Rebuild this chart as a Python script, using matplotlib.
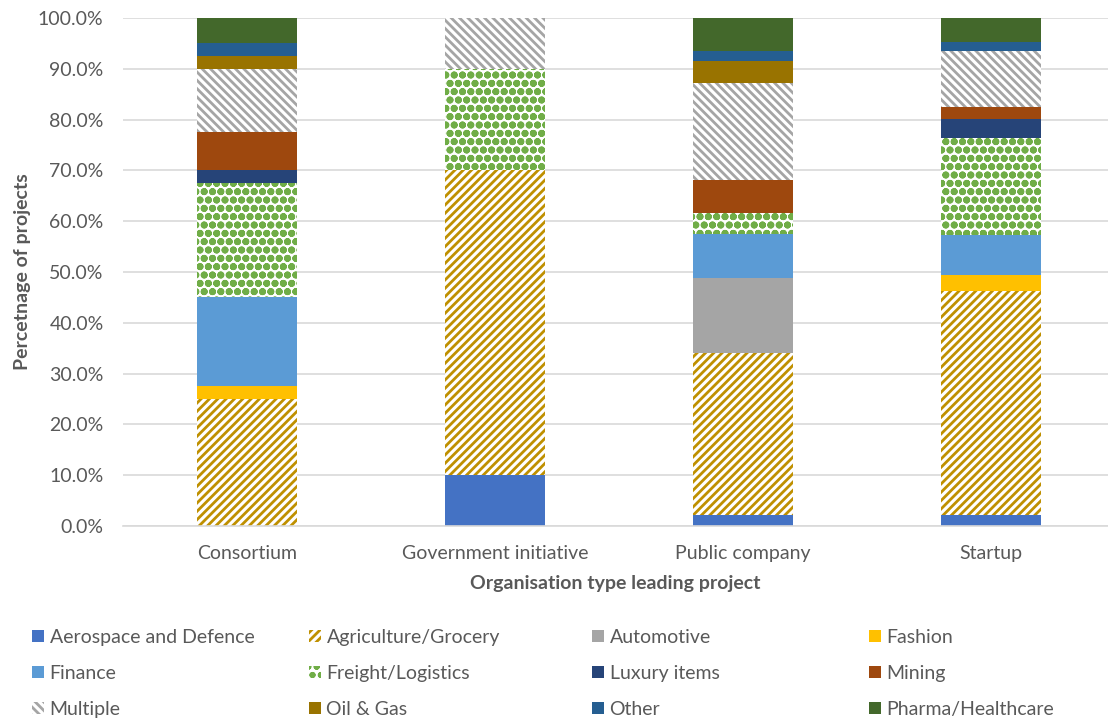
import numpy as np
import matplotlib
matplotlib.use('Agg')
import matplotlib.pyplot as plt
from matplotlib.ticker import PercentFormatter

#Plot params
fnt = 14
txt_col = '#595959'
plt.rcParams['font.family'] = ['Lato', 'DejaVu Sans']
plt.rcParams['hatch.linewidth'] = 2.0

#Organisation types (x categories)
org_types = ['Consortium', 'Government initiative', 'Public company', 'Startup']

#Share of projects per sector, % of each organisation type
aerospace = [0, 10, 2.1, 2.2]
agriculture = [25, 60, 31.9, 44.1]
automotive = [0, 0, 14.9, 0]
fashion = [2.5, 0, 0, 3.1]
finance = [17.5, 0, 8.5, 7.9]
freight = [22.5, 20, 4.3, 19.0]
luxury = [2.5, 0, 0, 3.9]
mining = [7.5, 0, 6.4, 2.3]
multiple = [12.5, 10, 19.1, 11.1]
oil_gas = [2.5, 0, 4.3, 0]
other = [2.5, 0, 2.1, 1.7]
pharma = [5, 0, 6.4, 4.7]

sector_names = ['Aerospace and Defence', 'Agriculture/Grocery', 'Automotive', 'Fashion',
                'Finance', 'Freight/Logistics', 'Luxury items', 'Mining',
                'Multiple', 'Oil & Gas', 'Other', 'Pharma/Healthcare']
sector_vals = [aerospace, agriculture, automotive, fashion, finance, freight,
               luxury, mining, multiple, oil_gas, other, pharma]

#colour and hatch for each sector (None = solid fill)
sector_cols = ['#4472C4', '#BF9000', '#A5A5A5', '#FFC000', '#5B9BD5', '#70AD47',
               '#264478', '#9E480E', '#A5A5A5', '#997300', '#255E91', '#43682B']
sector_hatch = [None, '////', None, None, None, 'oo', None, None, '\\\\\\\\', None, None, None]

fig = plt.figure(figsize=(11.08, 7.2), dpi=100)
ax = fig.add_axes([123/1108, 1 - 526/720, 1 - 123/1108, 508/720])

x = np.arange(len(org_types))
bottom = np.zeros(len(org_types))
bars = []
for name, vals, col, hatch in zip(sector_names, sector_vals, sector_cols, sector_hatch):
    if hatch is None:
        b = ax.bar(x, vals, 0.403, bottom=bottom, color=col, linewidth=0, label=name)
    else:
        b = ax.bar(x, vals, 0.403, bottom=bottom, facecolor='white', edgecolor=col,
                   hatch=hatch, linewidth=0, label=name)
        #fatter dots for the freight pattern
        if hatch == 'oo':
            for p in b:
                if hasattr(p, 'set_hatch_linewidth'):
                    p.set_hatch_linewidth(2.6)
    bars.append(b)
    bottom += np.array(vals)

#axes styling
ax.set_ylim(0, 100)
ax.set_xlim(-0.5, (1108 - 247) / 248)
ax.set_yticks(np.arange(0, 101, 10))
ax.yaxis.set_major_formatter(PercentFormatter(xmax=100, decimals=1))
ax.set_xticks(x)
ax.set_xticklabels(org_types)
ax.grid(axis='y', color='#D9D9D9', linewidth=1.2)
ax.set_axisbelow(True)
for s in ['top', 'right', 'left']:
    ax.spines[s].set_visible(False)
ax.spines['bottom'].set_color('#D9D9D9')
ax.spines['bottom'].set_linewidth(1.2)
ax.tick_params(axis='both', length=0, labelsize=fnt, labelcolor=txt_col)
ax.tick_params(axis='y', pad=14)
ax.tick_params(axis='x', pad=14)
ax.set_xlabel('Organisation type leading project', fontsize=fnt, fontweight='bold',
              color=txt_col, labelpad=9)
ax.set_ylabel('Percetnage of projects', fontsize=fnt, fontweight='bold', color=txt_col)
ax.yaxis.set_label_coords(-92/985, 0.5)

#legend, one block per column so the columns sit at fixed positions
col_x = [32, 309, 592, 869]
for j in range(4):
    hs = [bars[j], bars[j + 4], bars[j + 8]]
    ls = [sector_names[j], sector_names[j + 4], sector_names[j + 8]]
    leg = fig.legend(hs, ls, loc='upper left', bbox_to_anchor=(col_x[j] / 1108, 1 - 629 / 720),
                     frameon=False, fontsize=fnt, handlelength=0.6, handleheight=0.6,
                     handletextpad=0.3, labelspacing=0.98, borderaxespad=0, borderpad=0)
    for t in leg.get_texts():
        t.set_color(txt_col)

plt.savefig('out.png', dpi=100)
